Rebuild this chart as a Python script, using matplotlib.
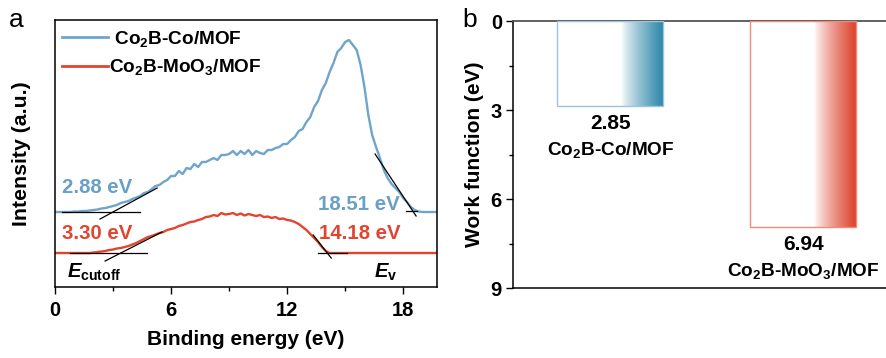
import numpy as np
import matplotlib
matplotlib.use("Agg")
import matplotlib.pyplot as plt
from matplotlib.colors import LinearSegmentedColormap
from matplotlib.ticker import MultipleLocator

plt.rcParams['font.family'] = ['Liberation Sans', 'DejaVu Sans']
plt.rcParams['font.weight'] = 'bold'
plt.rcParams['mathtext.fontset'] = 'custom'
plt.rcParams['mathtext.rm'] = 'Liberation Sans:bold'
plt.rcParams['mathtext.it'] = 'Liberation Sans:bold:italic'
plt.rcParams['mathtext.bf'] = 'Liberation Sans:bold'

# ---------------- data: panel a (UPS spectra) ----------------
energy = [round(0.2 * i, 1) for i in range(100)]  # 0.0 .. 19.8 eV
co_mof = [75, 75, 75, 75, 75, 75.5, 75.5, 76, 76, 76.5,
          77, 77.5, 78.5, 79, 80, 81, 82, 84, 85, 86,
          88, 89.5, 91, 94, 95, 98, 101, 102, 105, 107,
          111, 111, 116, 113, 119, 118, 123, 120, 125, 125,
          127, 129, 127, 132, 132, 133, 136, 132, 136, 133,
          137, 132, 136, 134, 133, 137, 137, 139, 140, 143,
          143, 147, 150, 156, 158, 165, 170, 180, 186, 197,
          204, 215, 224, 235, 239, 245, 247, 242, 237, 222,
          200, 172, 152, 140, 129, 117, 109, 103, 99, 95,
          89, 85, 80, 77, 75.5, 75, 75, 75, 75, 75]
moo3_mof = [34, 34, 34, 34, 34, 34, 34, 34, 34, 34,
            34.5, 35, 35.5, 36, 37, 37.5, 38.5, 39, 40, 41,
            42.5, 44, 46, 48, 50, 51, 52.5, 54, 55, 57,
            58, 59, 61, 62, 63.5, 65, 65.5, 67, 68, 70,
            70.5, 72, 71, 74, 72.5, 73, 74, 72, 73.5, 71.5,
            73, 72, 71, 72, 70, 70.5, 69, 70, 68, 68.5,
            67, 66.5, 65, 63, 60, 57, 53, 49, 45, 40,
            36, 34, 34, 34, 34, 34, 34, 34, 34, 34,
            34, 34, 34, 34, 34, 34, 34, 34, 34, 34,
            34, 34, 34, 34, 34, 34, 34, 34, 34, 34]

# tangent (fit) lines: (E0, I0, E1, I1)
fit_lines = [
    (0.36, 75, 4.4, 75), (2.33, 68, 5.28, 99),        # Co cutoff
    (0.78, 34, 4.76, 34), (2.59, 26, 5.53, 55),       # MoO3 cutoff
    (18.15, 76, 18.72, 76), (16.55, 133, 18.67, 71),  # Co Ev
    (13.6, 34, 15.1, 34), (13.35, 52, 14.28, 29),     # MoO3 Ev
]
cutoff_vals = ["2.88 eV", "3.30 eV"]
ev_vals = ["18.51 eV", "14.18 eV"]

# ---------------- data: panel b (work function) ----------------
samples = ["Co$_\\mathregular{2}$B-Co/MOF", "Co$_\\mathregular{2}$B-MoO$_\\mathregular{3}$/MOF"]
work_function = [2.85, 6.94]

blue = "#6fa5cb"
blue_txt = "#6a9fc6"
red = "#e2452f"
blue_dark = "#2a86a8"
red_dark = "#dc3e27"

fig = plt.figure(figsize=(8.86, 3.58), dpi=100)

# ---------- panel a ----------
ax = fig.add_axes([0.0621, 0.1983, 0.4311, 0.7458])
ax.plot(energy, co_mof, color=blue, lw=1.7, label=" " + samples[0])
ax.plot(energy, moo3_mof, color=red, lw=1.7, label=samples[1])
for (x0, y0, x1, y1) in fit_lines:
    ax.plot([x0, x1], [y0, y1], color="black", lw=0.9, zorder=4)
ax.set_xlim(0, 19.75)
ax.set_ylim(0, 267)
ax.xaxis.set_major_locator(MultipleLocator(6))
ax.xaxis.set_minor_locator(MultipleLocator(3))
ax.set_yticks([])
ax.tick_params(axis='x', which='major', length=5, width=1, labelsize=14.5, pad=5)
ax.tick_params(axis='x', which='minor', length=3, width=1)
for s in ax.spines.values():
    s.set_linewidth(1.1)
ax.set_xlabel("Binding energy (eV)", fontsize=15, fontweight='bold', labelpad=7)
ax.set_ylabel("Intensity (a.u.)", fontsize=15.3, fontweight='bold', labelpad=17)

leg = ax.legend(loc='upper left', bbox_to_anchor=(0.018, 0.968), frameon=False,
                fontsize=13.7, handlelength=2.4, handletextpad=0.08,
                labelspacing=0.46, borderpad=0, borderaxespad=0)
for t in leg.get_texts():
    t.set_fontweight('bold')
leg.get_lines()[0].set_linewidth(2)
leg.get_lines()[1].set_linewidth(2)

ax.text(0.36, 100, cutoff_vals[0], color=blue_txt, fontsize=14.7, fontweight='bold', va='center', ha='left')
ax.text(0.36, 54, cutoff_vals[1], color=red, fontsize=14.7, fontweight='bold', va='center', ha='left')
ax.text(17.85, 83, ev_vals[0], color=blue_txt, fontsize=14.7, fontweight='bold', va='center', ha='right')
ax.text(13.65, 54, ev_vals[1], color=red, fontsize=14.7, fontweight='bold', va='center', ha='left')
ax.text(0.6, 15, "$\\mathit{E}_\\mathregular{cutoff}$", fontsize=14.5, va='center', ha='left')
ax.text(16.5, 15, "$\\mathit{E}_\\mathregular{v}$", fontsize=14.5, va='center', ha='left')
fig.text(0.010, 0.945, "a", fontsize=19, fontweight='normal', va='center', ha='left')

# ---------- panel b ----------
bx = fig.add_axes([0.579, 0.1955, 0.425, 0.7458])
xpos = [0, 1]
width = 0.55
bars = bx.bar(xpos, work_function, width=width, facecolor="white",
              edgecolor=["#9cc4de", "#f28a7c"], linewidth=1.0, zorder=3)
t = np.linspace(0, 1, 512)
grad = np.clip((t - 0.6) / 0.4, 0, 1) ** 0.8
for b, dark in zip(bars, [blue_dark, red_dark]):
    cmap = LinearSegmentedColormap.from_list("g", ["white", dark])
    x0 = b.get_x()
    im = bx.imshow(grad[None, :], cmap=cmap, vmin=0, vmax=1, aspect='auto',
                   extent=[x0, x0 + b.get_width(), b.get_height(), 0], zorder=2,
                   interpolation='bilinear')
    im.set_clip_path(b)
    b.set_facecolor("none")
bx.set_xlim(-0.505, 1.448)
bx.set_ylim(9, 0)
bx.set_yticks([0, 3, 6, 9])
bx.yaxis.set_minor_locator(MultipleLocator(1.5))
bx.set_xticks([])
bx.tick_params(axis='y', which='major', length=5, width=1, labelsize=14.5, pad=3)
bx.tick_params(axis='y', which='minor', length=3, width=1)
bx.spines['right'].set_visible(False)
bx.spines['top'].set_color("#555555")
bx.spines['top'].set_linewidth(1.3)
bx.spines['left'].set_linewidth(1.1)
bx.spines['bottom'].set_linewidth(1.1)
bx.set_ylabel("Work function (eV)", fontsize=15, fontweight='bold', labelpad=5)
for x, v, name in zip(xpos, work_function, samples):
    bx.annotate(f"{v:.2f}", (x, v), xytext=(0, -13), textcoords='offset points',
                ha='center', va='center', fontsize=15, fontweight='bold')
    bx.annotate(name, (x, v), xytext=(0, -32), textcoords='offset points',
                ha='center', va='center', fontsize=13.7, fontweight='bold')
fig.text(0.522, 0.945, "b", fontsize=19, fontweight='normal', va='center', ha='left')

fig.savefig("out.png", dpi=100)
